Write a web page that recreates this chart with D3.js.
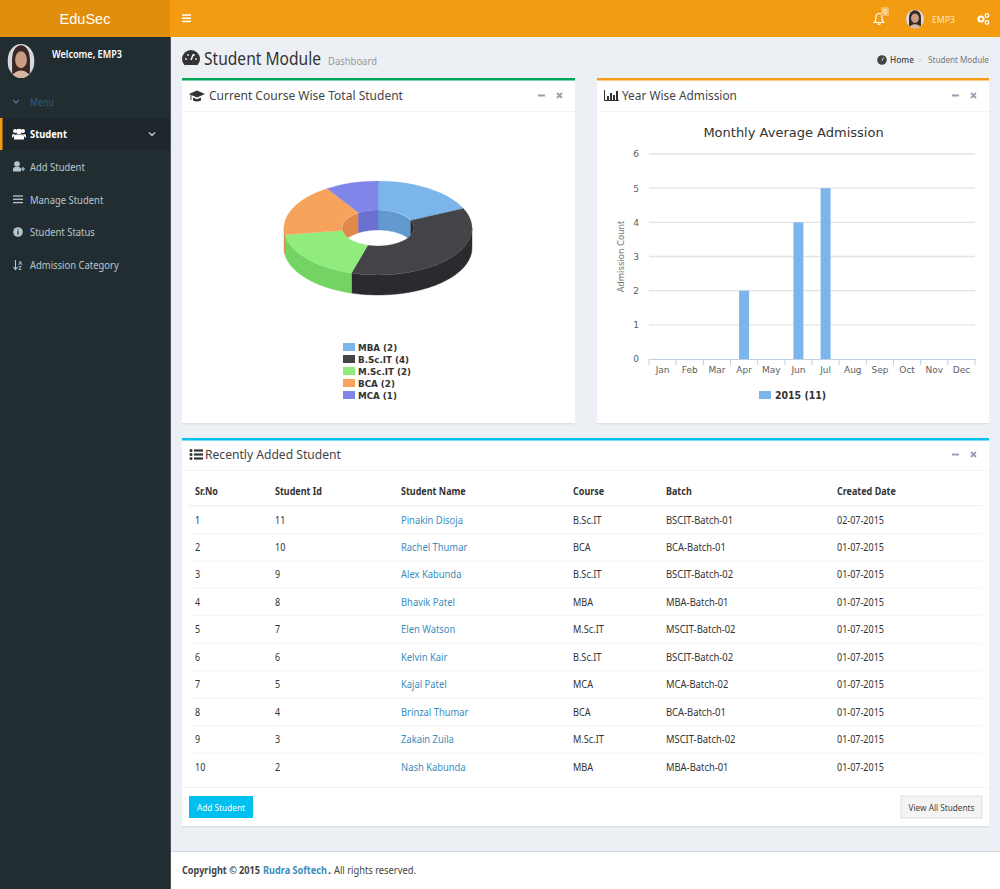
<!DOCTYPE html>
<html><head><meta charset="utf-8">
<script src="https://cdn.jsdelivr.net/npm/d3@7"></script>
<style>html,body{margin:0;padding:0;background:#ecf0f5;overflow:hidden}svg{display:block}text{font-family:"Noto Sans",sans-serif}.hc{font-family:"DejaVu Sans",sans-serif}</style>
</head><body><div id="app"></div>
<script>
const pieCourses=["MBA","B.Sc.IT","M.Sc.IT","BCA","MCA"];
const pieValues=[2,4,2,2,1];
const pieColors=["#7cb5ec","#434348","#90ed7d","#f7a35c","#8085e9"];
const pieSideColors=["#6299cf","#2b2b2f","#73d463","#e0894a","#6a6fd0"];
const months=["Jan","Feb","Mar","Apr","May","Jun","Jul","Aug","Sep","Oct","Nov","Dec"];
const admissions=[0,0,0,2,0,4,5,0,0,0,0,0];
const yTicks=[0,1,2,3,4,5,6];
const menuItems=["Add Student","Manage Student","Student Status","Admission Category"];
const tableHead=["Sr.No","Student Id","Student Name","Course","Batch","Created Date"];
const srNo=[1,2,3,4,5,6,7,8,9,10];
const studentIds=[11,10,9,8,7,6,5,4,3,2];
const studentNames=["Pinakin Disoja","Rachel Thumar","Alex Kabunda","Bhavik Patel","Elen Watson","Kelvin Kair","Kajal Patel","Brinzal Thumar","Zakain Zuila","Nash Kabunda"];
const courses=["B.Sc.IT","BCA","B.Sc.IT","MBA","M.Sc.IT","B.Sc.IT","MCA","BCA","M.Sc.IT","MBA"];
const batches=["BSCIT-Batch-01","BCA-Batch-01","BSCIT-Batch-02","MBA-Batch-01","MSCIT-Batch-02","BSCIT-Batch-02","MCA-Batch-02","BCA-Batch-01","MSCIT-Batch-02","MBA-Batch-01"];
const createdDates=["02-07-2015","01-07-2015","01-07-2015","01-07-2015","01-07-2015","01-07-2015","01-07-2015","01-07-2015","01-07-2015","01-07-2015"];

const svg=d3.select("#app").append("svg").attr("width",1000).attr("height",889);
const defs=svg.append("defs");
function rect(p,x,y,w,h,fill){return p.append("rect").attr("x",x).attr("y",y).attr("width",w).attr("height",h).attr("fill",fill);}
function text(p,x,y,s,size,fill,opt={}){const t=p.append("text").attr("x",x).attr("y",y).attr("font-size",size).attr("fill",fill).text(s);
 if(opt.bold)t.attr("font-weight",opt.bold===true?700:opt.bold);if(opt.anchor)t.attr("text-anchor",opt.anchor);if(opt.cls)t.attr("class",opt.cls);
 if(opt.w||opt.k){const L=t.node().getComputedTextLength();const sx=opt.k||opt.w/L;
  t.attr("x",0).attr("y",0).attr("transform",`translate(${x},${y}) scale(${sx},1)`);}
 return t;}
function avatar(id,cx,cy,rx,ry){
 defs.append("clipPath").attr("id",id).append("ellipse").attr("cx",cx).attr("cy",cy).attr("rx",rx).attr("ry",ry);
 const g=svg.append("g").attr("clip-path",`url(#${id})`);
 rect(g,cx-rx,cy-ry,2*rx,2*ry,"#d5d9dc");
 g.append("ellipse").attr("cx",cx).attr("cy",cy-ry*.15).attr("rx",rx*.66).attr("ry",ry*.78).attr("fill","#3a2622");
 g.append("rect").attr("x",cx-rx*.66).attr("y",cy-ry*.1).attr("width",rx*1.32).attr("height",ry*.85).attr("fill","#3a2622");
 g.append("ellipse").attr("cx",cx).attr("cy",cy-ry*.08).attr("rx",rx*.44).attr("ry",ry*.5).attr("fill","#c99b84");
 g.append("ellipse").attr("cx",cx).attr("cy",cy+ry*.98).attr("rx",rx*.62).attr("ry",ry*.42).attr("fill","#d7b6a4");
}
function burger(p,x,y,w,c,gap=3,sw=1.5){[0,1,2].forEach(i=>p.append("line").attr("x1",x).attr("x2",x+w).attr("y1",y+i*gap).attr("y2",y+i*gap).attr("stroke",c).attr("stroke-width",sw));}
function chevron(p,x,y,c){p.append("path").attr("d",`M${x-3},${y-1.5}L${x},${y+1.5}L${x+3},${y-1.5}`).attr("fill","none").attr("stroke",c).attr("stroke-width",1.2);}

// layout chrome
rect(svg,0,0,1000,889,"#ecf0f5");
rect(svg,0,37,170,852,"#222d32");
rect(svg,170,37,1,852,"#4a5257");
rect(svg,0,0,170,37,"#e08e0b");
rect(svg,170,0,830,37,"#f39c12");
text(svg,85,24,"EduSec",14.5,"#fff",{anchor:"middle"}).style("font-family","'Liberation Sans',sans-serif");
burger(svg,182,15,9,"#fff",3.2,1.5);

// header right
const bell=svg.append("g").attr("fill","none").attr("stroke","#fff").attr("stroke-width",1.2);
bell.append("path").attr("d","M874.5,22.5c1.5,-1.5 1.5,-3 1.5,-5c0,-2.5 1.5,-4 3,-4c1.5,0 3,1.5 3,4c0,2 0,3.5 1.5,5z");
bell.append("path").attr("d","M877.8,23.5a1.4,1.4 0 0 0 2.6,0");
rect(svg,881,7,8,9,"#f7bd63").attr("rx",1);
text(svg,885,14,"0",6.5,"#fff",{anchor:"middle"});
avatar("av1",915,19,9,9.5);
text(svg,932,23,"EMP3",9.5,"#fde6c0",{w:23});
const cog=svg.append("g").attr("fill","none").attr("stroke","#fff");
cog.append("circle").attr("cx",981).attr("cy",19).attr("r",2.6).attr("stroke-width",2);
cog.append("circle").attr("cx",987).attr("cy",15.5).attr("r",1.8).attr("stroke-width",1.3);
cog.append("circle").attr("cx",987).attr("cy",22.5).attr("r",1.8).attr("stroke-width",1.3);

// sidebar
avatar("av2",21,61,13.5,17);
text(svg,52,57.5,"Welcome, EMP3",10.5,"#fff",{bold:600,w:70});
chevron(svg,16,101.5,"#5a7a8a");
text(svg,30,106,"Menu",10.5,"#2e5d78",{w:24});
rect(svg,0,118,170,32,"#1e282c");
rect(svg,0,118,2.5,32,"#f39c12");
const ug=svg.append("g").attr("fill","#fff");
ug.append("circle").attr("cx",19).attr("cy",131.5).attr("r",2.8);
ug.append("circle").attr("cx",15).attr("cy",131).attr("r",2);
ug.append("circle").attr("cx",23).attr("cy",131).attr("r",2);
ug.append("path").attr("d","M14,139.5v-3q0,-2 2.5,-2h5q2.5,0 2.5,2v3z");
ug.append("path").attr("d","M13,137.5h-1v-2q0,-1.5 2,-1.5h1zM25,137.5h1v-2q0,-1.5 -2,-1.5h-1z");
text(svg,30,138,"Student",10.5,"#fff",{bold:700,w:37});
chevron(svg,152,134,"#d8dde0");
const sideY=[171,203.5,236,269];
menuItems.forEach((m,i)=>text(svg,30,sideY[i],m,10.5,"#b8c7ce",{k:.9}));
const ic=svg.append("g").attr("fill","#b8c7ce");
ic.append("circle").attr("cx",17).attr("cy",164).attr("r",2.8);
ic.append("path").attr("d","M13,171.5v-2q0,-2.5 2.5,-2.5h3.5q2,0 2,2.5v2z");
ic.append("path").attr("d","M21,169h4M23,167v4").attr("stroke","#b8c7ce").attr("stroke-width",1.2);
burger(svg,13,196,10,"#b8c7ce",3.3,1.3);
ic.append("circle").attr("cx",18).attr("cy",232).attr("r",4.8);
svg.append("path").attr("d","M18,230.8v3.6M18,228.9v.9").attr("stroke","#222d32").attr("stroke-width",1.3);
svg.append("path").attr("d","M15.5,260v9M13.5,267l2,2.5l2,-2.5").attr("stroke","#b8c7ce").attr("fill","none").attr("stroke-width",1.1);
text(svg,18.5,264.5,"A",5,"#b8c7ce",{bold:700});text(svg,18.5,270,"Z",5,"#b8c7ce",{bold:700});

// page title
const gauge=svg.append("g");
gauge.append("circle").attr("cx",191).attr("cy",59).attr("r",9).attr("fill","#333");
gauge.append("path").attr("d","M191,60l2.5,-6").attr("stroke","#ecf0f5").attr("stroke-width",1.6);
[[186,59],[188,55],[194,55],[196,59]].forEach(c=>gauge.append("circle").attr("cx",c[0]).attr("cy",c[1]).attr("r",.9).attr("fill","#ecf0f5"));
rect(gauge,185,65,12,3,"#ecf0f5");
text(svg,204,64.5,"Student Module",18,"#333",{w:117});
text(svg,328,65,"Dashboard",10.5,"#999",{w:49});
const gs=svg.append("g");
gs.append("circle").attr("cx",882).attr("cy",60).attr("r",4.8).attr("fill","#444");
gs.append("path").attr("d","M882,60.5l1.5,-3").attr("stroke","#ecf0f5").attr("stroke-width",.9);
text(svg,890,63,"Home",9.5,"#444",{bold:500,w:24});
text(svg,918,63,">",7,"#ccc");
text(svg,928,63,"Student Module",9.5,"#777",{w:61});

// boxes
function box(x,y,w,h,c,title,titleX,titleW,lineOffset,titleY){
 rect(svg,x,y+1.5,w,h,"#dde1e6");
 rect(svg,x,y,w,h,"#fff");
 rect(svg,x,y,w,2.5,c);
 rect(svg,x,y+lineOffset,w,1,"#f4f4f4");
 text(svg,titleX,y+titleY,title,13,"#444",{w:titleW});
}
box(182,78,393,345,"#00a65a","Current Course Wise Total Student",209,194,33,21.5);
box(597,78,392,345,"#f39c12","Year Wise Admission",622,115,33,21.5);
box(182,438,807,388,"#00c0ef","Recently Added Student",205,136,32,21);
function tools(xm,xc,y){
 svg.append("line").attr("x1",xm).attr("x2",xm+7).attr("y1",y).attr("y2",y).attr("stroke","#97a0b3").attr("stroke-width",2);
 svg.append("path").attr("d",`M${xc},${y-2.5}l5,5M${xc+5},${y-2.5}l-5,5`).attr("stroke","#97a0b3").attr("stroke-width",1.8);
}
tools(538,557,95.5);tools(952,971,95.5);tools(952,971,454.5);

// box icons
const cap=svg.append("g").attr("fill","#333");
cap.append("path").attr("d","M189,94l8,-3.5l8,3.5l-8,3.5z");
cap.append("path").attr("d","M193,97.5v3q4,2 8,0v-3l-4,1.7z");
cap.append("rect").attr("x",190.5).attr("y",94).attr("width",.9).attr("height",6);
const bic=svg.append("g").attr("fill","#333");
bic.append("path").attr("d","M604,90v11h15v-1h-14v-10z");
[[607,96,4],[610,93,7],[613,95,5],[616,91,9]].forEach(b=>rect(bic,b[0],b[1],2,b[2],"#333"));
[450.5,454.5,458.5].forEach(y=>{svg.append("circle").attr("cx",191).attr("cy",y).attr("r",1.5).attr("fill","#333");rect(svg,194,y-1.1,9,2.2,"#333");});

// 3D donut, projected with d3.pie + d3.arc
const cx=378,cy=228,rOuter=94,rInner=36,squash=.5,depth=20;
const slices=d3.pie().sort(null)(pieValues);
const arc=d3.arc().innerRadius(rInner).outerRadius(rOuter);
const project=(r,a,dy=0)=>[r*Math.sin(a),r*squash*-Math.cos(a)+dy];
function wall(r,a0,a1,c,g){
 if(a1<=a0)return;
 const n=Math.max(4,Math.ceil((a1-a0)*30));
 const as=d3.range(n+1).map(i=>a0+(a1-a0)*i/n);
 const pts=as.map(a=>project(r,a)).concat(as.slice().reverse().map(a=>project(r,a,depth)));
 g.append("path").attr("d",d3.line()(pts)+"Z").attr("fill",c).attr("stroke",c).attr("stroke-width",.4);
}
const pie=svg.append("g").attr("transform",`translate(${cx},${cy})`);
defs.append("clipPath").attr("id","hole").append("ellipse").attr("rx",rInner).attr("ry",rInner*squash);
const innerG=pie.append("g").attr("clip-path","url(#hole)");
slices.forEach((s,i)=>{
 const a0=s.startAngle,a1=s.endAngle;
 wall(rInner,Math.max(a0,0),Math.min(a1,Math.PI/2),pieSideColors[i],innerG);
 wall(rInner,Math.max(a0,1.5*Math.PI),Math.min(a1,2*Math.PI),pieSideColors[i],innerG);
});
slices.forEach((s,i)=>wall(rOuter,Math.max(s.startAngle,Math.PI/2),Math.min(s.endAngle,1.5*Math.PI),pieSideColors[i],pie));
const topFace=pie.append("g").attr("transform",`scale(1,${squash})`);
topFace.selectAll("path").data(slices).join("path").attr("d",arc).attr("fill",(d,i)=>pieColors[i]).attr("stroke",(d,i)=>pieColors[i]).attr("stroke-width",.3);

// pie legend
const legY=d3.scalePoint().domain(pieCourses).range([347,395]);
pieCourses.forEach((c,i)=>{
 rect(svg,343,legY(c)-4,12,8,pieColors[i]);
 text(svg,358,legY(c)+3.5,`${c} (${pieValues[i]})`,9.5,"#333",{bold:700,cls:"hc",k:.92});
});

// bar chart
const x=d3.scaleBand().domain(months).range([649,975]);
const y=d3.scaleLinear().domain([0,6]).range([359,154]);
const chart=svg.append("g");
text(chart,793.5,137,"Monthly Average Admission",13,"#333",{anchor:"middle",cls:"hc"});
const yAxis=chart.append("g").attr("transform","translate(649,0)").call(d3.axisLeft(y).tickValues(yTicks).tickSize(0).tickPadding(10).tickFormat(d3.format("d")));
yAxis.select(".domain").remove();
yAxis.selectAll("text").attr("class","hc").attr("font-size",9).attr("fill","#606060").attr("font-family",null);
chart.append("g").selectAll("line").data(yTicks.slice(1)).join("line").attr("x1",649).attr("x2",975).attr("y1",d=>y(d)).attr("y2",d=>y(d)).attr("stroke","#e4e4e4").attr("stroke-width",1.3);
const xAxis=chart.append("g").attr("transform","translate(0,359)").call(d3.axisBottom(x).tickSize(0).tickPadding(8));
xAxis.select(".domain").attr("stroke","#c0d0e0");
xAxis.selectAll("text").attr("class","hc").attr("font-size",9).attr("fill","#606060").attr("font-family",null);
chart.append("g").selectAll("line").data(d3.range(13)).join("line").attr("x1",d=>649+d*x.step()).attr("x2",d=>649+d*x.step()).attr("y1",359).attr("y2",365).attr("stroke","#c0d0e0");
chart.append("g").selectAll("rect").data(admissions.map((v,i)=>({v,m:months[i]})).filter(d=>d.v>0)).join("rect")
 .attr("x",d=>x(d.m)+x.bandwidth()/2-5).attr("width",10).attr("y",d=>y(d.v)).attr("height",d=>y(0)-y(d.v)).attr("fill","#7cb5ec");
text(chart,0,0,"Admission Count",8.5,"#707070",{anchor:"middle",cls:"hc"}).attr("transform","translate(624,256.5) rotate(-90)");
rect(chart,759,391,12,8,"#7cb5ec");
text(chart,775,398.5,`2015 (${d3.sum(admissions)})`,10,"#333",{bold:700,cls:"hc",k:.94});

// table
const colX=[195,275,401,573,666,837];
const rowY=d3.scalePoint().domain(srNo).range([520,767]);
tableHead.forEach((h,i)=>text(svg,colX[i],495,h,10,"#333",{bold:700,k:.9}));
rect(svg,189,505,793,1.2,"#f0f0f0");
srNo.forEach((n,i)=>{
 const yy=rowY(n)+3.5;
 if(i<9)rect(svg,189,rowY(n)+13,793,1,"#f4f4f4");
 text(svg,colX[0],yy,n,10,"#333",{k:.9});
 text(svg,colX[1],yy,studentIds[i],10,"#333",{k:.9});
 text(svg,colX[2],yy,studentNames[i],10,"#3c8dbc",{k:.94});
 text(svg,colX[3],yy,courses[i],10,"#333",{k:.92});
 text(svg,colX[4],yy,batches[i],10,"#333",{k:.94});
 text(svg,colX[5],yy,createdDates[i],10,"#333",{k:.9});
});
rect(svg,182,787,807,1,"#f4f4f4");
rect(svg,189,796,64,22,"#00c0ef");
text(svg,221,810.5,"Add Student",9,"#fff",{anchor:"middle",w:48});
rect(svg,901,796,81,22,"#f4f4f4").attr("stroke","#ddd");
text(svg,941.5,810.5,"View All Students",9,"#444",{anchor:"middle",w:66});

// footer
rect(svg,171,851,829,38,"#fff");
rect(svg,171,851,829,1,"#d2d6de");
text(svg,182,874,"Copyright © 2015",10.5,"#444",{bold:700,w:78});
text(svg,263,874,"Rudra Softech",10.5,"#3c8dbc",{bold:700,w:64});
text(svg,328,874,".",10.5,"#444",{bold:700});
text(svg,334,874,"All rights reserved.",10.5,"#444",{w:82});
</script></body></html>
